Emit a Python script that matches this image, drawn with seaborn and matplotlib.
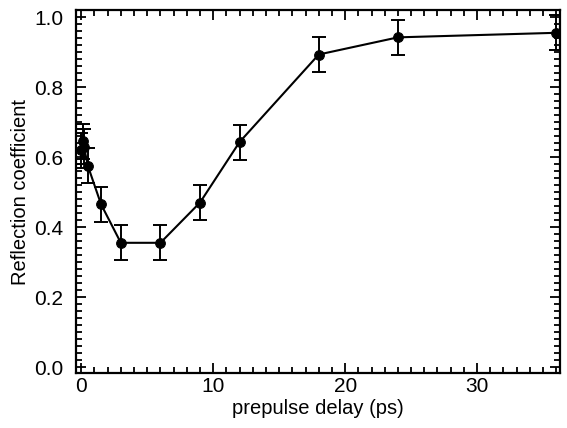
import matplotlib
matplotlib.use("Agg")
import matplotlib.pyplot as plt
from matplotlib.ticker import MultipleLocator
import seaborn as sns
import pandas as pd

delay_ps = [0.0, 0.1, 0.2, 0.5, 1.5, 3.0, 6.0, 9.0, 12.0, 18.0, 24.0, 36.0]
reflection = [0.62, 0.645, 0.63, 0.575, 0.465, 0.355, 0.355, 0.47, 0.643, 0.893, 0.942, 0.955]
error = [0.05, 0.05, 0.05, 0.05, 0.05, 0.05, 0.05, 0.05, 0.05, 0.05, 0.05, 0.05]

df = pd.DataFrame({"delay": delay_ps, "R": reflection, "err": error})

sns.set_style("ticks")
plt.rcParams["font.family"] = ["Liberation Sans", "DejaVu Sans"]
plt.rcParams["text.color"] = "black"
plt.rcParams["axes.labelcolor"] = "black"

fig = plt.figure(figsize=(5.67, 4.28), dpi=100)
ax = fig.add_axes([0.134, 0.1285, 0.854, 0.848])

ax.errorbar(df["delay"], df["R"], yerr=df["err"], fmt="none", ecolor="black",
            elinewidth=1.4, capsize=5, capthick=1.4, zorder=2)
sns.lineplot(data=df, x="delay", y="R", ax=ax, color="black", linewidth=1.5,
             marker="o", markersize=7, markeredgecolor="black", sort=True, zorder=3)

ax.set_xlim(-0.4, 36.3)
ax.set_ylim(-0.017, 1.02)
ax.xaxis.set_major_locator(MultipleLocator(10))
ax.xaxis.set_minor_locator(MultipleLocator(1))
ax.yaxis.set_major_locator(MultipleLocator(0.2))
ax.yaxis.set_minor_locator(MultipleLocator(0.02))
ax.yaxis.set_major_formatter(matplotlib.ticker.FormatStrFormatter("%.1f"))

ax.tick_params(which="both", direction="in", top=True, right=True, width=1.3,
               colors="black", labelcolor="black")
ax.tick_params(which="major", length=7, labelsize=15)
ax.tick_params(axis="y", which="major", pad=9)
ax.tick_params(axis="x", which="major", pad=3)
ax.tick_params(which="minor", length=4)
for s in ax.spines.values():
    s.set_linewidth(1.6)
    s.set_color("black")

ax.set_xlabel("prepulse delay (ps)", fontsize=14.5, labelpad=2, color="black")
ax.set_ylabel("Reflection coefficient", fontsize=14.5, labelpad=3, color="black")

fig.savefig("out.png", dpi=100)
